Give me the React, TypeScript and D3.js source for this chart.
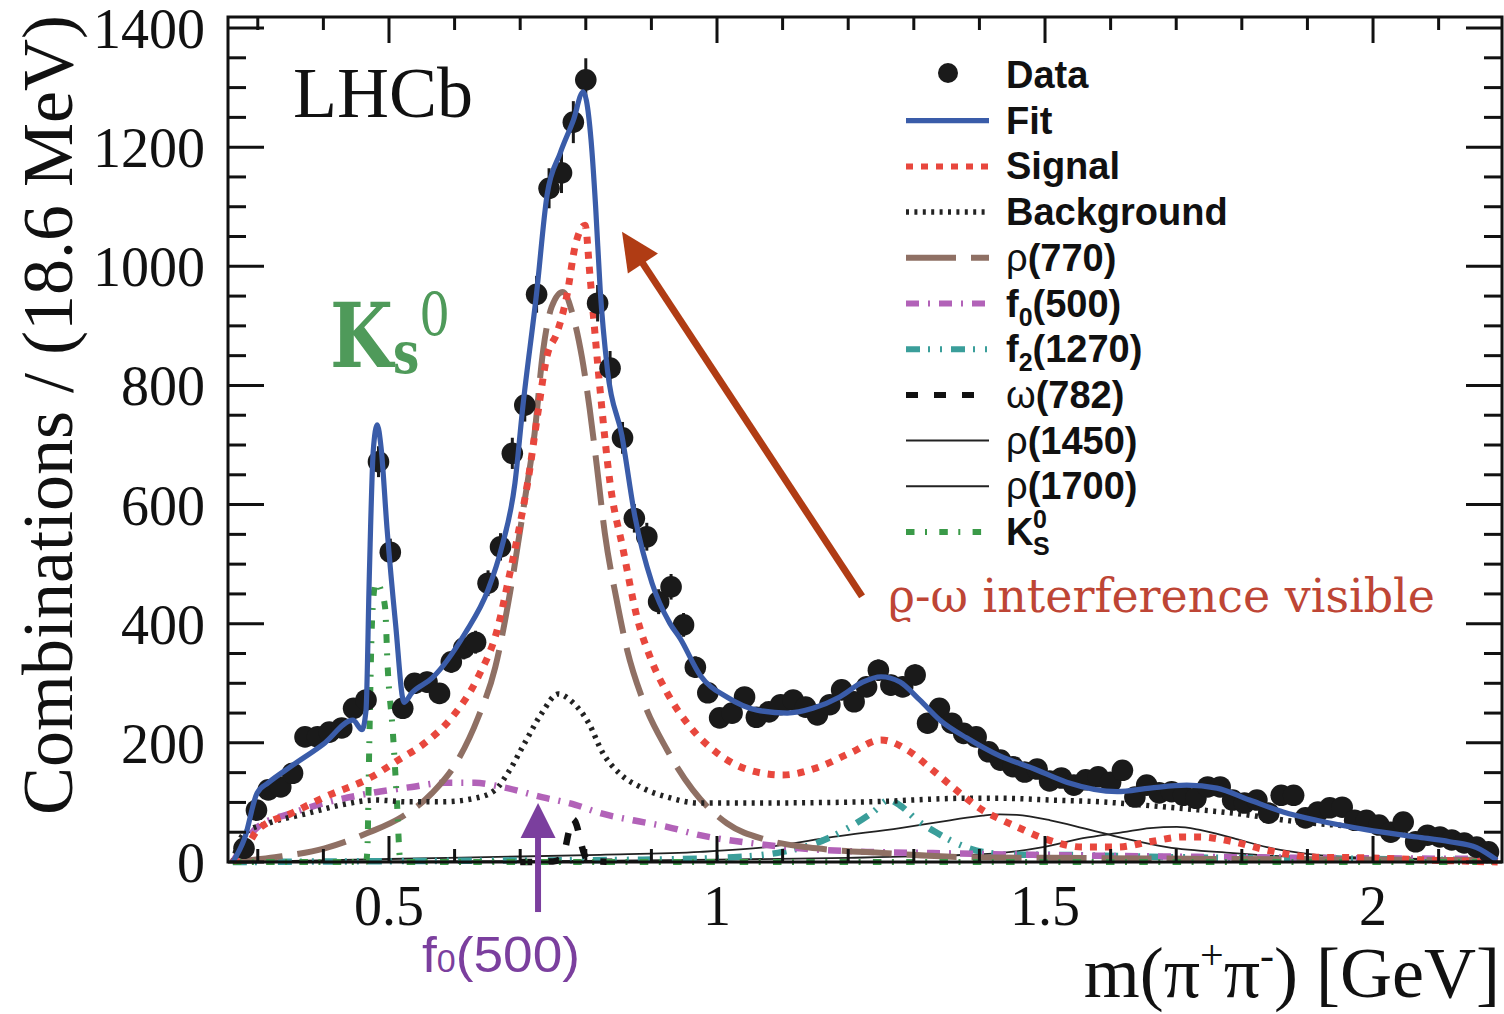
import React from 'react';
import * as d3 from 'd3';

// ---------------- data ----------------
const massBins = [
  0.279, 0.298, 0.316, 0.335, 0.353, 0.372, 0.391, 0.409, 0.428, 0.446,
  0.465, 0.484, 0.502, 0.521, 0.539, 0.558, 0.577, 0.595, 0.614, 0.632,
  0.651, 0.670, 0.688, 0.707, 0.725, 0.744, 0.763, 0.781, 0.800, 0.818,
  0.837, 0.856, 0.874, 0.893, 0.911, 0.930, 0.949, 0.967, 0.986, 1.004,
  1.023, 1.042, 1.060, 1.079, 1.097, 1.116, 1.135, 1.153, 1.172, 1.190,
  1.209, 1.228, 1.246, 1.265, 1.283, 1.302, 1.321, 1.339, 1.358, 1.376,
  1.395, 1.414, 1.432, 1.451, 1.469, 1.488, 1.507, 1.525, 1.544, 1.562,
  1.581, 1.600, 1.618, 1.637, 1.655, 1.674, 1.693, 1.711, 1.730, 1.748,
  1.767, 1.786, 1.804, 1.823, 1.841, 1.860, 1.879, 1.897, 1.916, 1.934,
  1.953, 1.972, 1.990, 2.009, 2.027, 2.046, 2.065, 2.083, 2.102, 2.120,
  2.139, 2.158, 2.176,
];
const counts = [
  23, 87, 121, 126, 149, 210, 210, 218, 225, 258,
  272, 672, 520, 258, 300, 302, 283, 336, 359, 369,
  468, 529, 686, 767, 953, 1131, 1157, 1242, 1313, 938,
  829, 712, 577, 546, 437, 462, 398, 327, 284, 242,
  250, 277, 243, 252, 264, 272, 260, 247, 264, 289,
  269, 294, 322, 297, 294, 314, 233, 258, 233, 216,
  210, 185, 171, 160, 151, 156, 136, 141, 129, 138,
  143, 134, 154, 109, 129, 116, 118, 112, 107, 126,
  126, 104, 99, 104, 82, 112, 112, 74, 84, 91,
  92, 70, 70, 62, 50, 67, 34, 45, 42, 37,
  32, 25, 17,
];

type Pt = [number, number];

const fitCurve: Pt[] = [
  [0.262, 0], [0.280, 40], [0.299, 116], [0.316, 133], [0.350, 160], [0.400, 198],
  [0.445, 238], [0.459, 222], [0.465, 255], [0.470, 480], [0.476, 690], [0.482, 734],
  [0.488, 695], [0.497, 560], [0.510, 400], [0.523, 268], [0.535, 284], [0.566, 309],
  [0.616, 384], [0.651, 457], [0.672, 529], [0.692, 636], [0.704, 764], [0.725, 955],
  [0.741, 1120], [0.761, 1190], [0.781, 1245], [0.796, 1293], [0.801, 1278], [0.808, 1212],
  [0.815, 1100], [0.822, 960], [0.833, 826], [0.855, 716], [0.875, 579], [0.901, 468],
  [0.928, 401], [0.944, 375], [0.974, 314], [1.015, 277], [1.061, 255], [1.107, 250],
  [1.146, 258], [1.187, 277], [1.222, 302], [1.250, 311], [1.279, 302], [1.309, 272],
  [1.340, 238], [1.381, 208], [1.431, 178], [1.482, 157], [1.533, 134], [1.610, 118],
  [1.660, 124], [1.716, 129], [1.762, 124], [1.812, 104], [1.863, 84], [1.914, 70],
  [1.991, 54], [2.067, 42], [2.117, 34], [2.158, 24], [2.189, 3],
];
const signalCurve: Pt[] = [
  [0.262, 0], [0.280, 20], [0.300, 54], [0.352, 82], [0.402, 109], [0.474, 143],
  [0.514, 171], [0.555, 200], [0.596, 243], [0.636, 311], [0.666, 394], [0.681, 468],
  [0.697, 552], [0.712, 641], [0.727, 754], [0.741, 850], [0.756, 888], [0.771, 950],
  [0.784, 1035], [0.799, 1069], [0.806, 989], [0.811, 925], [0.822, 790], [0.837, 636],
  [0.857, 524], [0.878, 411], [0.898, 344], [0.924, 284], [0.959, 227], [1.000, 183],
  [1.050, 154], [1.100, 146], [1.152, 158], [1.203, 183], [1.250, 205], [1.290, 188],
  [1.329, 154], [1.370, 116], [1.405, 87], [1.431, 72], [1.457, 59], [1.497, 40],
  [1.558, 25], [1.610, 25], [1.660, 34], [1.710, 42], [1.736, 42], [1.787, 34],
  [1.838, 20], [1.914, 8], [1.991, 7], [2.092, 3], [2.190, 0],
];
const backgroundCurve: Pt[] = [
  [0.262, 0], [0.270, 30], [0.280, 49], [0.316, 65], [0.377, 82], [0.428, 96],
  [0.479, 104], [0.529, 101], [0.581, 101], [0.631, 107], [0.662, 121], [0.681, 149],
  [0.707, 200], [0.733, 250], [0.758, 282], [0.779, 269], [0.805, 232], [0.825, 185],
  [0.852, 148], [0.883, 126], [0.924, 109], [0.974, 99], [1.050, 99], [1.229, 101],
  [1.381, 107], [1.431, 107], [1.508, 104], [1.584, 101], [1.686, 92], [1.787, 82],
  [1.889, 67], [1.991, 57], [2.092, 37], [2.168, 20], [2.190, 8],
];
const rho770Curve: Pt[] = [
  [0.262, 0], [0.326, 8], [0.402, 23], [0.468, 49], [0.520, 76], [0.566, 116],
  [0.605, 171], [0.636, 243], [0.662, 327], [0.687, 468], [0.707, 608], [0.722, 720],
  [0.735, 859], [0.748, 932], [0.765, 957], [0.781, 915], [0.794, 848], [0.806, 760],
  [0.817, 663], [0.829, 552], [0.847, 440], [0.863, 356], [0.887, 272], [0.924, 188],
  [0.963, 121], [1.015, 65], [1.076, 37], [1.152, 23], [1.253, 15], [1.381, 8],
  [1.508, 7], [1.800, 5], [2.190, 3],
];
const f0500Curve: Pt[] = [
  [0.262, 0], [0.276, 25], [0.300, 59], [0.352, 82], [0.402, 99], [0.474, 116],
  [0.535, 126], [0.585, 133], [0.631, 133], [0.672, 126], [0.733, 109], [0.784, 96],
  [0.822, 82], [0.872, 70], [0.924, 59], [0.974, 45], [1.050, 32], [1.126, 23],
  [1.229, 17], [1.329, 15], [1.482, 12], [1.800, 8], [2.190, 5],
];
const f21270Curve: Pt[] = [
  [0.262, 0], [0.600, 2], [0.900, 4], [1.025, 8], [1.100, 17], [1.152, 32],
  [1.203, 59], [1.238, 84], [1.262, 104], [1.279, 95], [1.305, 70], [1.335, 49],
  [1.370, 29], [1.405, 17], [1.457, 12], [1.503, 12], [1.700, 8], [2.000, 5], [2.190, 3],
];
const omega782Curve: Pt[] = [
  [0.700, 0], [0.750, 1], [0.760, 4], [0.768, 20], [0.774, 50], [0.780, 72],
  [0.786, 62], [0.792, 35], [0.798, 12], [0.805, 2], [0.850, 0],
];
const rho1450Curve: Pt[] = [
  [0.262, 0], [0.500, 5], [0.822, 12], [0.974, 17], [1.076, 25], [1.177, 42],
  [1.279, 57], [1.355, 70], [1.405, 78], [1.431, 80], [1.457, 79], [1.508, 70],
  [1.558, 57], [1.619, 40], [1.686, 25], [1.787, 15], [1.889, 8], [2.041, 5], [2.190, 2],
];
const rho1700Curve: Pt[] = [
  [0.262, 0], [0.800, 2], [1.000, 4], [1.200, 7], [1.350, 11], [1.431, 15],
  [1.497, 25], [1.558, 40], [1.619, 50], [1.660, 57], [1.701, 59], [1.736, 54],
  [1.787, 40], [1.838, 25], [1.914, 12], [1.991, 7], [2.092, 5], [2.190, 2],
];
const ks0Curve: Pt[] = [
  [0.262, 0], [0.465, 0], [0.467, 20], [0.470, 200], [0.474, 400], [0.479, 465],
  [0.483, 468], [0.488, 455], [0.494, 428], [0.498, 327], [0.506, 216], [0.512, 104],
  [0.517, 5], [0.522, 0], [2.190, 0],
];

const xMajorTicks = [0.5, 1, 1.5, 2];
const xTickLabels = ['0.5', '1', '1.5', '2'];
const yMajorTicks = [0, 200, 400, 600, 800, 1000, 1200, 1400];
const yTickLabels = ['0', '200', '400', '600', '800', '1000', '1200', '1400'];
const legendLabels = ['Data', 'Fit', 'Signal', 'Background', 'ρ(770)', 'f0(500)', 'f2(1270)', 'ω(782)', 'ρ(1450)', 'ρ(1700)', 'KS0'];

// ---------------- layout / styles ----------------
const W = 1504, H = 1014;
const PL = 228, PR = 1502, PT = 17, PB = 862;

const SERIF = '"Liberation Serif", "Times New Roman", serif';
const SANS = '"Liberation Sans", Arial, sans-serif';
const SLAB = '"DejaVu Serif", serif';

const st: Record<string, { stroke: string; sw: number; dash?: string }> = {
  fit: { stroke: '#3a5ca9', sw: 5.2 },
  signal: { stroke: '#e8473d', sw: 7, dash: '7 8' },
  background: { stroke: '#222', sw: 5.5, dash: '3 5.4' },
  rho770: { stroke: '#8f7064', sw: 6, dash: '50 15' },
  f0: { stroke: '#b262b8', sw: 6.5, dash: '13 9 2 9' },
  f2: { stroke: '#3a9e9a', sw: 6.5, dash: '14 8 2 10 2 9' },
  omega: { stroke: '#111', sw: 6.5, dash: '12 16' },
  rho1450: { stroke: '#222', sw: 1.8 },
  rho1700: { stroke: '#222', sw: 1.8 },
  ks: { stroke: '#3a9a48', sw: 6, dash: '8.5 10.5 2 12.3' },
};

export default function App() {
  const x = d3.scaleLinear().domain([0.2546, 2.1966]).range([PL, PR]);
  const y = d3.scaleLinear().domain([0, 1418.5]).range([PB, PT]);
  const line = d3.line<Pt>().x(d => x(d[0])).y(d => y(d[1])).curve(d3.curveMonotoneX);

  const xMinor = x.ticks(20).filter(t => !xMajorTicks.some(m => Math.abs(m - t) < 1e-6));
  const yMinor = y.ticks(28).filter(t => !yMajorTicks.includes(t));

  const curves: [Pt[], string][] = [
    [rho1450Curve, 'rho1450'],
    [rho1700Curve, 'rho1700'],
    [f21270Curve, 'f2'],
    [f0500Curve, 'f0'],
    [rho770Curve, 'rho770'],
    [omega782Curve, 'omega'],
    [ks0Curve, 'ks'],
    [backgroundCurve, 'background'],
    [signalCurve, 'signal'],
  ];

  const legendKeys = ['data', 'fit', 'signal', 'background', 'rho770', 'f0', 'f2', 'omega', 'rho1450', 'rho1700', 'ks'];
  const rowY = (i: number) => 75 + i * 45.7;
  const LX1 = 906, LX2 = 989, TX = 1006;

  // annotation arrows (in data coordinates)
  const redTail: Pt = [1.2211, 446];
  const redTip: Pt = [0.8552, 1058];
  const purpleTip: Pt = [0.7272, 99];
  const purpleTail: Pt = [0.7272, -84];

  const arrowHead = (tip: Pt, tail: Pt, len: number, half: number) => {
    const tx = x(tip[0]), ty = y(tip[1]);
    const dx = tx - x(tail[0]), dy = ty - y(tail[1]);
    const L = Math.hypot(dx, dy);
    const ux = dx / L, uy = dy / L;
    const bx = tx - ux * len, by = ty - uy * len;
    return `${tx},${ty} ${bx - uy * half},${by + ux * half} ${bx + uy * half},${by - ux * half}`;
  };
  const shaftEnd = (tip: Pt, tail: Pt, len: number) => {
    const tx = x(tip[0]), ty = y(tip[1]);
    const dx = tx - x(tail[0]), dy = ty - y(tail[1]);
    const L = Math.hypot(dx, dy);
    return [tx - (dx / L) * len, ty - (dy / L) * len];
  };
  const redShaft = shaftEnd(redTip, redTail, 30);
  const purpleShaft = shaftEnd(purpleTip, purpleTail, 30);

  const legendLabel = (i: number) => {
    const lab = legendLabels[i];
    const yb = rowY(i) + 13;
    const common = { x: TX, y: yb, fontFamily: SANS, fontWeight: 'bold' as const, fontSize: 38, fill: '#111' };
    if (lab.startsWith('ρ') || lab.startsWith('ω')) {
      return (
        <text key={i} {...common}>
          <tspan fontWeight="normal">{lab[0]}</tspan>{lab.slice(1)}
        </text>
      );
    }
    if (lab.startsWith('f')) {
      return (
        <text key={i} {...common}>
          f<tspan dy={9} fontSize={25}>{lab[1]}</tspan><tspan dy={-9}>{lab.slice(2)}</tspan>
        </text>
      );
    }
    if (lab === 'KS0') {
      return (
        <g key={i}>
          <text {...common}>K</text>
          <text x={TX + 27} y={yb + 10} fontFamily={SANS} fontWeight="bold" fontSize={25} fill="#111">S</text>
          <text x={TX + 27} y={yb - 17} fontFamily={SANS} fontWeight="bold" fontSize={25} fill="#111">0</text>
        </g>
      );
    }
    return <text key={i} {...common}>{lab}</text>;
  };

  return (
    <svg width={W} height={H} viewBox={`0 0 ${W} ${H}`} style={{ position: 'absolute', left: 0, top: 0, background: '#fff' }}>
      <defs>
        <clipPath id="plotclip">
          <rect x={PL} y={PT} width={PR - PL} height={PB - PT + 4} />
        </clipPath>
      </defs>
      <rect x={0} y={0} width={W} height={H} fill="#fff" />

      {/* curves */}
      <g clipPath="url(#plotclip)" fill="none" strokeLinejoin="round">
        {curves.map(([pts, key]) => (
          <path key={key} d={line(pts) || ''} stroke={st[key].stroke} strokeWidth={st[key].sw} strokeDasharray={st[key].dash} />
        ))}
        {/* data */}
        <g>
          {massBins.map((m, i) => {
            const e = Math.sqrt(counts[i]);
            return (
              <g key={i}>
                <line x1={x(m)} x2={x(m)} y1={y(counts[i] - e)} y2={y(counts[i] + e)} stroke="#1a1a1a" strokeWidth={3} />
                <circle cx={x(m)} cy={y(counts[i])} r={10.8} fill="#1a1a1a" />
              </g>
            );
          })}
        </g>
        <path d={line(fitCurve) || ''} stroke={st.fit.stroke} strokeWidth={st.fit.sw} />
      </g>

      {/* frame */}
      <rect x={PL} y={PT} width={PR - PL} height={PB - PT} fill="none" stroke="#111" strokeWidth={3} />
      {/* ticks */}
      <g stroke="#111" strokeWidth={3}>
        {xMajorTicks.map(t => (
          <g key={'xM' + t}>
            <line x1={x(t)} x2={x(t)} y1={PB} y2={PB - 26} />
            <line x1={x(t)} x2={x(t)} y1={PT} y2={PT + 26} />
          </g>
        ))}
        {xMinor.map(t => (
          <g key={'xm' + t}>
            <line x1={x(t)} x2={x(t)} y1={PB} y2={PB - 13} />
            <line x1={x(t)} x2={x(t)} y1={PT} y2={PT + 13} />
          </g>
        ))}
        {yMajorTicks.map(t => (
          <g key={'yM' + t}>
            <line x1={PL} x2={PL + 36} y1={y(t)} y2={y(t)} />
            <line x1={PR} x2={PR - 36} y1={y(t)} y2={y(t)} />
          </g>
        ))}
        {yMinor.map(t => (
          <g key={'ym' + t}>
            <line x1={PL} x2={PL + 18} y1={y(t)} y2={y(t)} />
            <line x1={PR} x2={PR - 18} y1={y(t)} y2={y(t)} />
          </g>
        ))}
      </g>

      {/* tick labels */}
      <g fontFamily={SERIF} fontSize={56} fill="#111">
        {xMajorTicks.map((t, i) => (
          <text key={'xl' + t} x={x(t)} y={925} textAnchor="middle">{xTickLabels[i]}</text>
        ))}
        {yMajorTicks.map((t, i) => (
          <text key={'yl' + t} x={205} y={y(t) + 20} textAnchor="end">{yTickLabels[i]}</text>
        ))}
      </g>

      {/* axis titles */}
      <text transform="translate(72,15) rotate(-90)" textAnchor="end" fontFamily={SERIF} fontSize={72} fill="#111">
        Combinations / (18.6 MeV)
      </text>
      <text x={1500} y={997} textAnchor="end" fontFamily={SERIF} fontSize={72} fill="#111">
        m(π<tspan dy={-28} fontSize={42}>+</tspan><tspan dy={28}>π</tspan><tspan dy={-28} fontSize={42}>-</tspan><tspan dy={28}>) [GeV]</tspan>
      </text>

      {/* LHCb */}
      <text x={293} y={117} fontFamily={SERIF} fontSize={72} fill="#111">LHCb</text>

      {/* legend */}
      <circle cx={948} cy={rowY(0) - 2} r={10} fill="#1a1a1a" />
      {legendKeys.slice(1).map((k, j) => (
        <line key={k} x1={LX1} x2={LX2} y1={rowY(j + 1)} y2={rowY(j + 1)} stroke={st[k].stroke}
          strokeWidth={k === 'rho1450' || k === 'rho1700' ? 2 : Math.min(st[k].sw, 6)} strokeDasharray={st[k].dash} />
      ))}
      {legendLabels.map((_, i) => legendLabel(i))}

      {/* K_S^0 annotation (one text element, subscript and superscript as tspans) */}
      <text x={330} y={367} fill="#4f9a5a" fontFamily={SLAB} textLength={120} lengthAdjust="spacingAndGlyphs">
        <tspan fontWeight="bold" fontSize={90}>K</tspan>
        <tspan fontWeight="bold" fontSize={58} dy={6}>s</tspan>
        <tspan fontSize={60} dy={-37}>0</tspan>
      </text>

      {/* rho-omega annotation */}
      <line x1={x(redTail[0])} y1={y(redTail[1])} x2={redShaft[0]} y2={redShaft[1]} stroke="#b03c14" strokeWidth={7} />
      <polygon points={arrowHead(redTip, redTail, 38, 18)} fill="#b03c14" />
      <text x={888} y={612} fontFamily={SLAB} fontSize={47} fill="#be4535" textLength={547} lengthAdjust="spacingAndGlyphs">
        ϱ-ω interference visible
      </text>

      {/* f0(500) annotation */}
      <line x1={x(purpleTail[0])} y1={y(purpleTail[1])} x2={purpleShaft[0]} y2={purpleShaft[1]} stroke="#7b3f9e" strokeWidth={6} />
      <polygon points={arrowHead(purpleTip, purpleTail, 35, 17.5)} fill="#7b3f9e" />
      <text x={422} y={972} fontFamily={SANS} fontSize={50} fill="#7b3f9e" textLength={158} lengthAdjust="spacingAndGlyphs">
        f<tspan fontSize={32}>0</tspan>(500)
      </text>
    </svg>
  );
}
